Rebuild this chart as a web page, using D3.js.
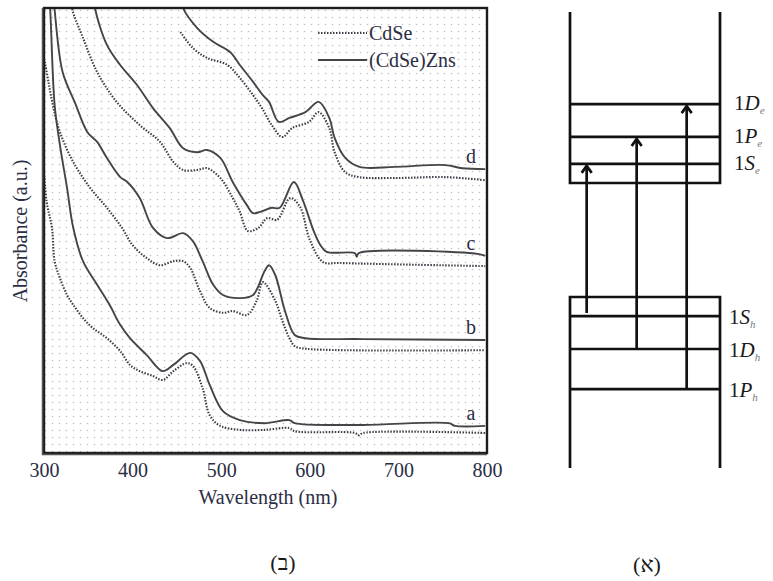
<!DOCTYPE html>
<html>
<head>
<meta charset="utf-8">
<script src="https://cdn.jsdelivr.net/npm/d3@7"></script>
<style>
body { margin: 0; background: #fff; }
svg { display: block; }
</style>
</head>
<body>
<div class="figure"></div>
<script>
// Absorbance spectra, [wavelength (nm), absorbance (a.u.)]
// a - d are the four samples; CdSe core is dotted, (CdSe)ZnS is solid.
var cdseA = [[300,0.630],[303,0.564],[309,0.506],[312,0.431],[318,0.393],[326,0.355],[333,0.333],[344,0.303],[355,0.281],[371,0.258],[386,0.229],[397,0.198],[408,0.184],[423,0.173],[434,0.164],[446,0.184],[461,0.202],[468,0.196],[479,0.146],[487,0.085],[499,0.061],[521,0.052],[549,0.052],[577,0.056],[583,0.049],[651,0.045],[655,0.040],[660,0.045],[798,0.045]];
var shellA = [[306,1.018],[307,0.996],[312,0.782],[318,0.692],[326,0.596],[333,0.506],[344,0.431],[360,0.378],[374,0.333],[386,0.288],[397,0.258],[416,0.220],[434,0.184],[446,0.198],[465,0.225],[476,0.207],[487,0.153],[502,0.094],[521,0.074],[549,0.067],[577,0.074],[583,0.067],[659,0.063],[757,0.067],[764,0.061],[798,0.061]];

var cdseB = [[301,0.879],[305,0.834],[310,0.782],[318,0.721],[333,0.654],[352,0.596],[371,0.551],[388,0.506],[400,0.467],[416,0.438],[431,0.422],[446,0.431],[457,0.431],[465,0.416],[476,0.364],[487,0.326],[502,0.315],[513,0.319],[529,0.310],[540,0.342],[547,0.384],[561,0.342],[569,0.297],[577,0.258],[583,0.240],[597,0.234],[798,0.231]];
var shellB = [[311,1.018],[312,0.996],[321,0.856],[335,0.787],[349,0.721],[360,0.699],[371,0.663],[386,0.620],[394,0.609],[408,0.573],[423,0.506],[439,0.483],[457,0.494],[468,0.476],[479,0.431],[491,0.378],[502,0.355],[521,0.348],[536,0.355],[549,0.409],[554,0.422],[561,0.400],[572,0.319],[583,0.265],[595,0.258],[659,0.256],[798,0.254]];

var cdseC = [[331,1.018],[332,0.996],[344,0.933],[360,0.856],[382,0.789],[408,0.737],[431,0.699],[446,0.654],[457,0.636],[473,0.636],[484,0.640],[499,0.618],[513,0.573],[521,0.542],[530,0.499],[542,0.506],[552,0.528],[563,0.524],[578,0.573],[589,0.553],[600,0.479],[615,0.429],[634,0.427],[798,0.420]];
var shellC = [[357,1.018],[358,0.996],[371,0.917],[386,0.872],[405,0.827],[423,0.775],[442,0.730],[457,0.685],[473,0.676],[484,0.681],[499,0.663],[513,0.609],[529,0.557],[536,0.539],[544,0.542],[557,0.551],[566,0.551],[582,0.609],[592,0.569],[604,0.501],[612,0.467],[619,0.452],[651,0.449],[653,0.441],[655,0.449],[791,0.447],[798,0.443]];

var cdseD = [[454,0.946],[468,0.910],[484,0.888],[507,0.872],[521,0.843],[536,0.804],[546,0.775],[557,0.737],[569,0.710],[580,0.730],[599,0.744],[610,0.766],[622,0.730],[628,0.676],[640,0.631],[656,0.620],[696,0.618],[753,0.620],[798,0.613]];
var shellD = [[456,1.018],[457,1.000],[473,0.955],[491,0.924],[510,0.901],[521,0.872],[536,0.834],[547,0.804],[554,0.789],[565,0.744],[577,0.753],[595,0.766],[610,0.789],[622,0.753],[628,0.708],[640,0.663],[656,0.643],[696,0.643],[753,0.647],[772,0.640],[798,0.638]];

var sampleNames = ["a", "b", "c", "d"];
var wavelengthTicks = [300, 400, 500, 600, 700, 800];
var legendNames = ["CdSe", "(CdSe)Zns"];

// Energy level diagram (arbitrary energy units)
var conductionWell = [6.25, 10];
var valenceWell = [0, 3.75];
var electronLevels = ["1D", "1P", "1S"];
var electronEnergy = [7.98, 7.26, 6.67];
var holeLevels = ["1S", "1D", "1P"];
var holeEnergy = [3.33, 2.61, 1.73];
var transitionX = [1, 4, 7];
var transitionFrom = [3.40, 2.61, 1.73];
var transitionTo = [6.67, 7.26, 7.98];

var serif = "'Liberation Serif', 'DejaVu Serif', serif";
var textColor = "#2b2e45";
var dotColor = "#3e3e48";
var solidColor = "#454549";

var svg = d3.select(".figure").append("svg")
    .attr("width", 773)
    .attr("height", 581);

//The spectra panel.
var x = d3.scaleLinear().domain([300, 800]).range([44, 487]);
var y = d3.scaleLinear().domain([0, 1]).range([453, 8]);

var defs = svg.append("defs");
var pattern = defs.append("pattern")
    .attr("id", "dots")
    .attr("patternUnits", "userSpaceOnUse")
    .attr("width", 7)
    .attr("height", 7);
pattern.append("circle").attr("cx", 3.5).attr("cy", 3.5).attr("r", 0.8).attr("fill", "#bfc0c6");

defs.append("clipPath").attr("id", "plotClip")
    .append("rect")
    .attr("x", x(300)).attr("y", y(1))
    .attr("width", x(800) - x(300)).attr("height", y(0) - y(1));

svg.append("rect")
    .attr("x", x(300)).attr("y", y(1))
    .attr("width", x(800) - x(300)).attr("height", y(0) - y(1))
    .attr("fill", "url(#dots)");

var line = d3.line()
    .x(function(d) { return x(d[0]); })
    .y(function(d) { return y(d[1]); })
    .curve(d3.curveCatmullRom.alpha(0.5));

var curves = svg.append("g").attr("clip-path", "url(#plotClip)");

var cdseSeries = [cdseA, cdseB, cdseC, cdseD];
var shellSeries = [shellA, shellB, shellC, shellD];

curves.selectAll(".cdse").data(cdseSeries).enter().append("path")
    .attr("class", "cdse")
    .attr("d", line)
    .attr("fill", "none")
    .attr("stroke", dotColor)
    .attr("stroke-width", 2.1)
    .attr("stroke-dasharray", "1.5,1.5");

curves.selectAll(".shell").data(shellSeries).enter().append("path")
    .attr("class", "shell")
    .attr("d", line)
    .attr("fill", "none")
    .attr("stroke", solidColor)
    .attr("stroke-width", 1.9);

//Sample letters just above the right end of each solid curve.
svg.selectAll(".sample").data(shellSeries).enter().append("text")
    .attr("class", "sample")
    .attr("x", x(782))
    .attr("y", function(d) { return y(d[d.length - 1][1]) - 6; })
    .attr("text-anchor", "middle")
    .attr("font-family", serif)
    .attr("font-size", 20)
    .attr("fill", textColor)
    .text(function(d, i) { return sampleNames[i]; });

//Frame, heavier on the left and bottom like the scanned original.
svg.append("rect")
    .attr("x", x(300)).attr("y", y(1))
    .attr("width", x(800) - x(300)).attr("height", y(0) - y(1))
    .attr("fill", "none")
    .attr("stroke", "#1c1c1c")
    .attr("stroke-width", 2.4);
svg.append("path")
    .attr("d", "M" + (x(300) - 1.5) + "," + y(1) + "V" + (y(0) + 1.5) + "H" + x(800))
    .attr("fill", "none")
    .attr("stroke", "#555")
    .attr("stroke-width", 1.5);

//X axis labels.
var xAxis = svg.append("g")
    .attr("transform", "translate(0," + y(0) + ")")
    .call(d3.axisBottom(x).tickValues(wavelengthTicks).tickSize(0).tickPadding(10).tickFormat(d3.format("d")));
xAxis.select(".domain").remove();
xAxis.selectAll("text")
    .attr("font-family", serif)
    .attr("font-size", 20)
    .attr("fill", textColor);

svg.append("text")
    .attr("x", 268).attr("y", 504)
    .attr("text-anchor", "middle")
    .attr("font-family", serif).attr("font-size", 20).attr("fill", textColor)
    .text("Wavelength (nm)");

svg.append("text")
    .attr("transform", "translate(27,231) rotate(-90)")
    .attr("text-anchor", "middle")
    .attr("font-family", serif).attr("font-size", 20).attr("fill", textColor)
    .text("Absorbance (a.u.)");

//Legend.
var legend = svg.append("g").attr("transform", "translate(318,33)");
legendNames.forEach(function(name, i) {
    var row = legend.append("g").attr("transform", "translate(0," + i * 27 + ")");
    row.append("line")
        .attr("x1", 0).attr("x2", 49).attr("y1", 0).attr("y2", 0)
        .attr("stroke", i === 0 ? dotColor : solidColor)
        .attr("stroke-width", i === 0 ? 2.1 : 1.9)
        .attr("stroke-dasharray", i === 0 ? "1.5,1.5" : null);
    row.append("text")
        .attr("x", 51).attr("y", 7)
        .attr("font-family", serif).attr("font-size", 20).attr("fill", textColor)
        .text(name);
});

//The energy level diagram.
var bandX = d3.scaleLinear().domain([0, 9]).range([570, 720]);
var energyY = d3.scaleLinear().domain([0, 10]).range([468, 12]);
var diagram = svg.append("g")
    .attr("fill", "none")
    .attr("stroke", "#111")
    .attr("stroke-width", 2.7);

//Conduction well, open at the top.
diagram.append("path").attr("d",
    "M" + bandX(0) + "," + energyY(conductionWell[1]) +
    "V" + energyY(conductionWell[0]) +
    "H" + bandX(9) +
    "V" + energyY(conductionWell[1]));

//Valence well, open at the bottom.
diagram.append("path").attr("d",
    "M" + bandX(0) + "," + energyY(valenceWell[0]) +
    "V" + energyY(valenceWell[1]) +
    "H" + bandX(9) +
    "V" + energyY(valenceWell[0]));

diagram.selectAll(".elevel").data(electronEnergy).enter().append("line")
    .attr("x1", bandX(0)).attr("x2", bandX(9))
    .attr("y1", function(d) { return energyY(d); })
    .attr("y2", function(d) { return energyY(d); });

diagram.selectAll(".hlevel").data(holeEnergy).enter().append("line")
    .attr("x1", bandX(0)).attr("x2", bandX(9))
    .attr("y1", function(d) { return energyY(d); })
    .attr("y2", function(d) { return energyY(d); });

//Transitions with open arrowheads.
transitionX.forEach(function(t, i) {
    var ax = bandX(t);
    var top = energyY(transitionTo[i]) + 2;
    diagram.append("line")
        .attr("x1", ax).attr("x2", ax)
        .attr("y1", energyY(transitionFrom[i])).attr("y2", top);
    diagram.append("path")
        .attr("d", "M" + (ax - 5) + "," + (top + 7) + "L" + ax + "," + top + "L" + (ax + 5) + "," + (top + 7));
});

function levelLabel(name, sub, energy, x0, dy) {
    var t = svg.append("text")
        .attr("x", x0).attr("y", energyY(energy) + dy)
        .attr("font-family", serif).attr("font-size", 21).attr("fill", "#1a1a1a");
    t.append("tspan").text(name.charAt(0));
    t.append("tspan").attr("font-style", "italic").text(name.charAt(1));
    t.append("tspan").attr("font-style", "italic").attr("font-size", 11)
        .attr("fill", "#7a7a7a").attr("dy", 4).text(sub);
}

electronLevels.forEach(function(name, i) { levelLabel(name, "e", electronEnergy[i], 734, 6); });
holeLevels.forEach(function(name, i) { levelLabel(name, "h", holeEnergy[i], 729, 8); });

//Panel captions.
svg.append("text")
    .attr("x", 283).attr("y", 570)
    .attr("text-anchor", "middle")
    .attr("font-family", "'Liberation Serif', 'DejaVu Sans', serif").attr("font-size", 22).attr("fill", "#1a1a1a")
    .text("(ב)");
svg.append("text")
    .attr("x", 647).attr("y", 572)
    .attr("text-anchor", "middle")
    .attr("font-family", "'Liberation Serif', 'DejaVu Sans', serif").attr("font-size", 22).attr("fill", "#1a1a1a")
    .text("(א)");
</script>
</body>
</html>
